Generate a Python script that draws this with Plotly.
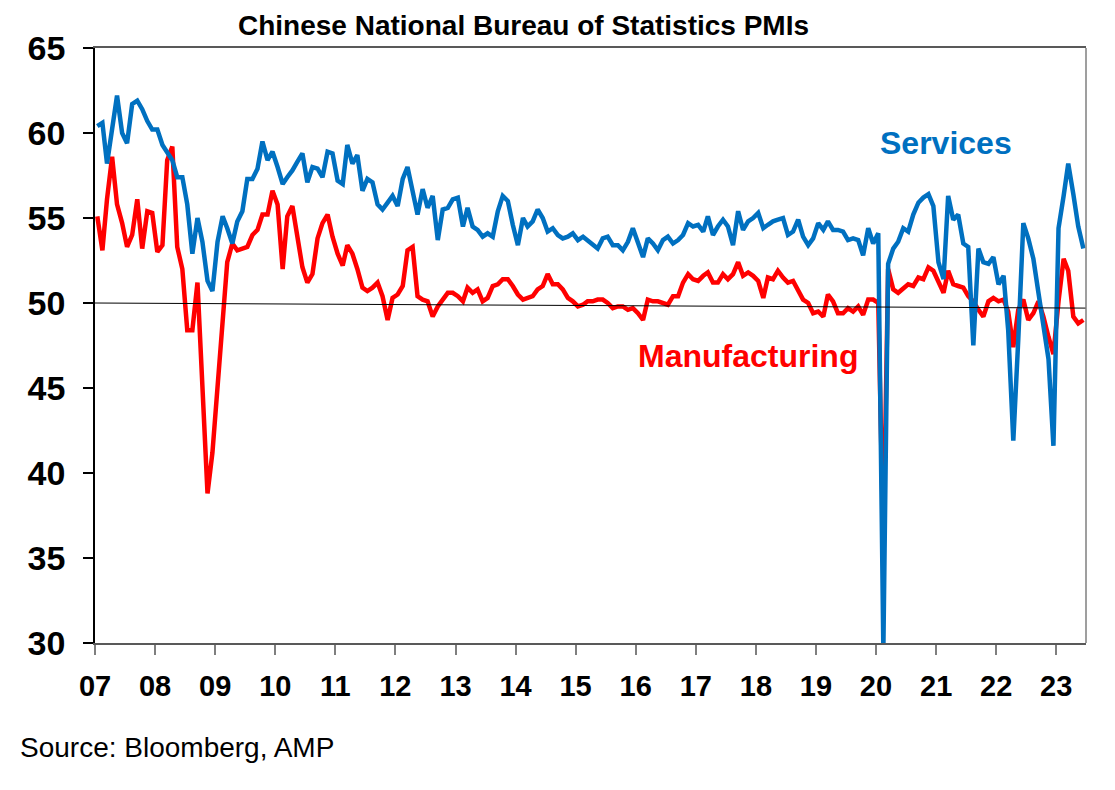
import pandas as pd
import plotly.graph_objects as go

# Monthly values, Jan 2007 - Jun 2023
manufacturing = [
    55.1, 53.1, 56.1, 58.6, 55.8, 54.7, 53.3, 54.0, 56.1, 53.2, 55.4, 55.3,  # 2007
    53.0, 53.4, 58.4, 59.2, 53.3, 52.0, 48.4, 48.4, 51.2, 44.6, 38.8, 41.2,  # 2008
    45.3, 49.0, 52.4, 53.5, 53.1, 53.2, 53.3, 54.0, 54.3, 55.2, 55.2, 56.6,  # 2009
    55.8, 52.0, 55.1, 55.7, 53.9, 52.1, 51.2, 51.7, 53.8, 54.7, 55.2, 53.9,  # 2010
    52.9, 52.2, 53.4, 52.9, 52.0, 50.9, 50.7, 50.9, 51.2, 50.4, 49.0, 50.3,  # 2011
    50.5, 51.0, 53.1, 53.3, 50.4, 50.2, 50.1, 49.2, 49.8, 50.2, 50.6, 50.6,  # 2012
    50.4, 50.1, 50.9, 50.6, 50.8, 50.1, 50.3, 51.0, 51.1, 51.4, 51.4, 51.0,  # 2013
    50.5, 50.2, 50.3, 50.4, 50.8, 51.0, 51.7, 51.1, 51.1, 50.8, 50.3, 50.1,  # 2014
    49.8, 49.9, 50.1, 50.1, 50.2, 50.2, 50.0, 49.7, 49.8, 49.8, 49.6, 49.7,  # 2015
    49.4, 49.0, 50.2, 50.1, 50.1, 50.0, 49.9, 50.4, 50.4, 51.2, 51.7, 51.4,  # 2016
    51.3, 51.6, 51.8, 51.2, 51.2, 51.7, 51.4, 51.7, 52.4, 51.6, 51.8, 51.6,  # 2017
    51.3, 50.3, 51.5, 51.4, 51.9, 51.5, 51.2, 51.3, 50.8, 50.2, 50.0, 49.4,  # 2018
    49.5, 49.2, 50.5, 50.1, 49.4, 49.4, 49.7, 49.5, 49.8, 49.3, 50.2, 50.2,  # 2019
    50.0, 35.7, 52.0, 50.8, 50.6, 50.9, 51.1, 51.0, 51.5, 51.4, 52.1, 51.9,  # 2020
    51.3, 50.6, 51.9, 51.1, 51.0, 50.9, 50.4, 50.1, 49.6, 49.2, 50.1, 50.3,  # 2021
    50.1, 50.2, 49.5, 47.4, 49.6, 50.2, 49.0, 49.4, 50.1, 49.2, 48.0, 47.0,  # 2022
    50.1, 52.6, 51.9, 49.2, 48.8, 49.0,                                      # 2023
]

services = [
    60.4, 60.6, 58.2, 60.2, 62.2, 60.0, 59.4, 61.7, 61.9, 61.4, 60.7, 60.2,  # 2007
    60.2, 59.3, 58.9, 58.4, 57.4, 57.4, 55.8, 52.9, 55.0, 53.6, 51.3, 50.7,  # 2008
    53.6, 55.1, 54.4, 53.5, 54.8, 55.4, 57.3, 57.3, 57.9, 59.5, 58.4, 58.9,  # 2009
    58.0, 57.0, 57.4, 57.8, 58.3, 58.8, 57.1, 58.0, 57.9, 57.4, 58.9, 58.8,  # 2010
    57.2, 57.0, 59.3, 58.2, 58.7, 56.6, 57.3, 57.1, 55.8, 55.5, 55.9, 56.3,  # 2011
    55.7, 57.3, 58.0, 56.7, 55.2, 56.7, 55.6, 56.3, 53.7, 55.5, 55.6, 56.1,  # 2012
    56.2, 54.5, 55.6, 54.5, 54.3, 53.9, 54.1, 53.9, 55.4, 56.3, 56.0, 54.6,  # 2013
    53.4, 55.0, 54.5, 54.8, 55.5, 55.0, 54.2, 54.4, 54.0, 53.8, 53.9, 54.1,  # 2014
    53.7, 53.9, 53.7, 53.4, 53.2, 53.8, 53.9, 53.4, 53.4, 53.1, 53.6, 54.4,  # 2015
    53.5, 52.7, 53.8, 53.5, 53.1, 53.7, 53.9, 53.5, 53.7, 54.0, 54.7, 54.5,  # 2016
    54.6, 54.2, 55.1, 54.0, 54.5, 54.9, 54.5, 53.4, 55.4, 54.3, 54.8, 55.0,  # 2017
    55.3, 54.4, 54.6, 54.8, 54.9, 55.0, 54.0, 54.2, 54.9, 53.9, 53.4, 53.8,  # 2018
    54.7, 54.3, 54.8, 54.3, 54.3, 54.2, 53.7, 53.8, 53.7, 52.8, 54.4, 53.5,  # 2019
    54.1, 29.6, 52.3, 53.2, 53.6, 54.4, 54.2, 55.2, 55.9, 56.2, 56.4, 55.7,  # 2020
    52.4, 51.4, 56.3, 54.9, 55.2, 53.5, 53.3, 47.5, 53.2, 52.4, 52.3, 52.7,  # 2021
    51.1, 51.6, 48.4, 41.9, 47.8, 54.7, 53.8, 52.6, 50.6, 48.7, 46.7, 41.6,  # 2022
    54.4, 56.3, 58.2, 56.4, 54.5, 53.2,                                      # 2023
]

months = pd.date_range("2007-01-01", periods=len(services), freq="MS") + pd.Timedelta(days=14)

year_ticks = [f"{y}-01-01" for y in range(2007, 2024)]
year_labels = ["07", "08", "09", "10", "11", "12", "13", "14", "15", "16",
               "17", "18", "19", "20", "21", "22", "23"]
y_ticks = [30, 35, 40, 45, 50, 55, 60, 65]

BLUE = "#0070C0"
RED = "#FF0000"
FONT = "Liberation Sans, Arial, sans-serif"

fig = go.Figure()
fig.add_trace(go.Scatter(x=months, y=manufacturing, mode="lines",
                         line=dict(color=RED, width=4.5), name="Manufacturing",
                         hoverinfo="x+y"))
fig.add_trace(go.Scatter(x=months, y=services, mode="lines",
                         line=dict(color=BLUE, width=4.5), name="Services",
                         hoverinfo="x+y"))

# reference line near 50
fig.add_shape(type="line", xref="x", yref="y", x0="2007-01-01", x1="2023-07-01",
              y0=50, y1=49.7, line=dict(color="black", width=1), layer="above")
# right frame
fig.add_shape(type="line", xref="paper", yref="paper", x0=1, x1=1, y0=0, y1=1,
              line=dict(color="#7f7f7f", width=1.5), layer="above")

fig.update_layout(
    width=1115, height=790,
    margin=dict(l=87, r=37, t=40, b=155),
    paper_bgcolor="white", plot_bgcolor="white",
    showlegend=False,
    font=dict(family=FONT, color="black"),
    xaxis=dict(
        type="date", range=["2007-01-01", "2023-07-01"],
        tickmode="array", tickvals=year_ticks, ticktext=year_labels,
        showgrid=False, zeroline=False,
        showline=True, linecolor="#595959", linewidth=1.5, mirror=True,
        ticks="outside", ticklen=10, tickcolor="#7f7f7f", tickwidth=1.5,
        tickfont=dict(family=FONT, size=29, color="black", weight="bold"),
        ticklabelstandoff=6,
    ),
    yaxis=dict(
        range=[30, 65], tickmode="array", tickvals=y_ticks,
        showgrid=False, zeroline=False,
        showline=True, linecolor="black", linewidth=1.5,
        ticks="outside", ticklen=10, tickcolor="black", tickwidth=1.5,
        tickfont=dict(family=FONT, size=34, color="black", weight="bold"),
        ticklabelstandoff=11,
    ),
    annotations=[
        dict(text="<b>Chinese National Bureau of Statistics PMIs</b>",
             xref="paper", yref="paper", x=0.4325, y=1.038,
             xanchor="center", yanchor="middle", showarrow=False,
             font=dict(family=FONT, size=28, color="black")),
        dict(text="<b>Services</b>", xref="paper", yref="paper",
             x=0.859, y=0.840, xanchor="center", yanchor="middle",
             showarrow=False, font=dict(family=FONT, size=32, color=BLUE)),
        dict(text="<b>Manufacturing</b>", xref="paper", yref="paper",
             x=0.659, y=0.482, xanchor="center", yanchor="middle",
             showarrow=False, font=dict(family=FONT, size=32, color=RED)),
        dict(text="Source: Bloomberg, AMP", xref="paper", yref="paper",
             x=-0.0774, y=-0.176, xanchor="left", yanchor="middle",
             showarrow=False, font=dict(family=FONT, size=28, color="black")),
    ],
)

fig.write_html("out.html")
